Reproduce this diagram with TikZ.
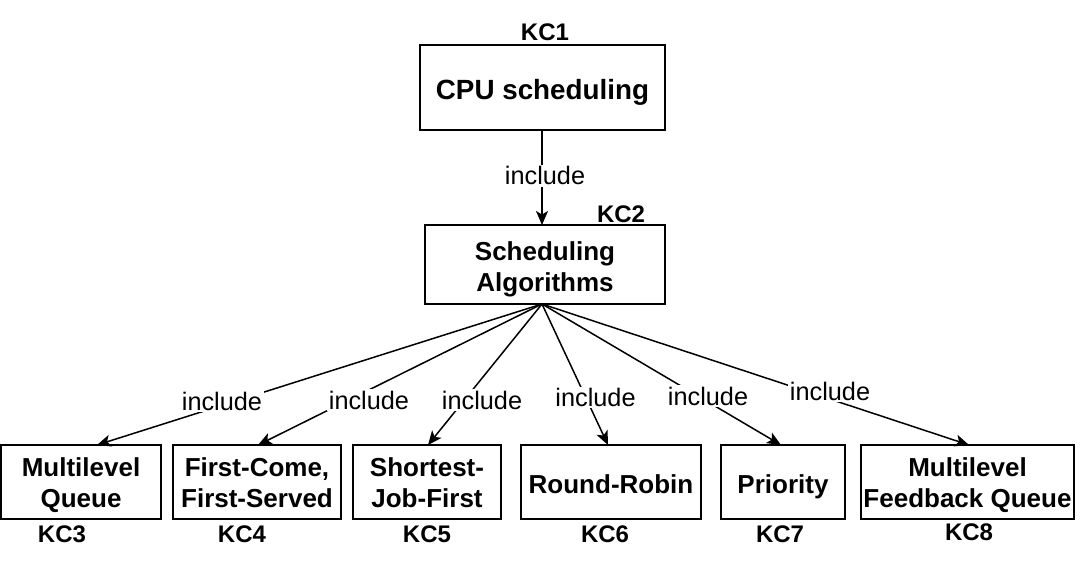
\documentclass[tikz,border=0pt]{standalone}
\usepackage{fontspec}
\setmainfont{Liberation Sans}
\usetikzlibrary{arrows.meta}
\newcommand{\nodep}[1]{\raisebox{0pt}[\height][0pt]{#1}}
\begin{document}
\begin{tikzpicture}[x=1pt,y=-1pt,
  box/.style={draw, line width=2pt, align=center, inner sep=0pt, font=\bfseries\fontsize{26}{31}\selectfont},
  kc/.style={anchor=base, inner sep=0pt, font=\bfseries\fontsize{24}{26}\selectfont},
  lbl/.style={anchor=base, fill=white, inner sep=1.5pt, font=\fontsize{25.3}{28}\selectfont},
  conn/.style={line width=1.5pt, -{Stealth[length=14pt,width=12pt,inset=3.5pt]}}]
\useasboundingbox (0,0) rectangle (1082,564);

\node[box, minimum width=245pt, minimum height=85pt, font=\bfseries\fontsize{27.8}{31}\selectfont] (top) at (542.5,87.5) {\rule{0pt}{23.6pt}\nodep{CPU scheduling}};
\node[box, minimum width=240pt, minimum height=79pt] (alg) at (545,264.5) {\rule{0pt}{22pt}Scheduling\\\nodep{Algorithms}};

\node[box, minimum width=160pt, minimum height=74pt] (b1) at (81,482) {\rule{0pt}{20.5pt}Multilevel\\\nodep{Queue}};
\node[box, minimum width=168pt, minimum height=74pt] (b2) at (257,482) {\rule{0pt}{20.5pt}First-Come,\\\nodep{First-Served}};
\node[box, minimum width=148pt, minimum height=74pt] (b3) at (427,482) {\rule{0pt}{20.5pt}Shortest-\\\nodep{Job-First}};
\node[box, minimum width=180pt, minimum height=74pt] (b4) at (611,482) {\rule{0pt}{22.5pt}\nodep{Round-Robin}};
\node[box, minimum width=124pt, minimum height=74pt] (b5) at (783,482) {\rule{0pt}{22.5pt}\nodep{Priority}};
\node[box, minimum width=213pt, minimum height=74pt] (b6) at (967.5,482) {\rule{0pt}{20.5pt}Multilevel\\\nodep{Feedback Queue}};

\node[kc] (kc1) at (545,40.7) {KC1};
\node[kc] (kc2) at (621,222.7) {KC2};
\node[kc] (kc3) at (62,542.5) {KC3};
\node[kc] (kc4) at (242,542.5) {KC4};
\node[kc] (kc5) at (427,542.5) {KC5};
\node[kc] (kc6) at (605,542.5) {KC6};
\node[kc] (kc7) at (780,542.5) {KC7};
\node[kc] (kc8) at (969,540) {KC8};

\coordinate (src) at (542,304);
\coordinate (tgt0) at (542,225);
\coordinate (t1) at (97,445);
\coordinate (t2) at (258,445);
\coordinate (t3) at (428,445);
\coordinate (t4) at (608,445);
\coordinate (t5) at (781,445);
\coordinate (t6) at (969,445);

\draw[conn] (top.south -| src) -- (tgt0);
\draw[conn] (src) -- (t1);
\draw[conn] (src) -- (t2);
\draw[conn] (src) -- (t3);
\draw[conn] (src) -- (t4);
\draw[conn] (src) -- (t5);
\draw[conn] (src) -- (t6);

\node[lbl] (l0) at (545,185) {include};
\node[lbl] (l1) at (222,410) {include};
\node[lbl] (l2) at (369,409) {include};
\node[lbl] (l3) at (482,409) {include};
\node[lbl] (l4) at (595.5,406.5) {include};
\node[lbl] (l5) at (708,405) {include};
\node[lbl] (l6) at (830,400.5) {include};
\end{tikzpicture}
\end{document}
